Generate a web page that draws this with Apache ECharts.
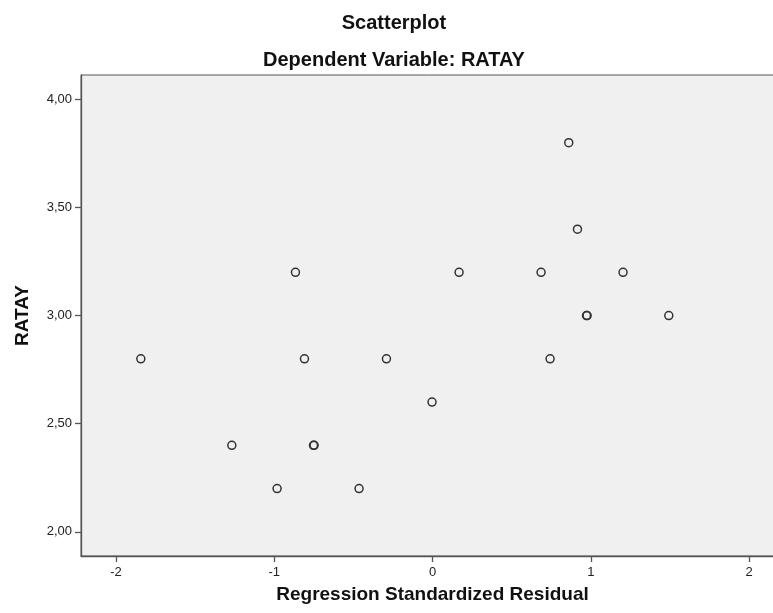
<!DOCTYPE html>
<html>
<head>
<meta charset="utf-8">
<script src="https://cdn.jsdelivr.net/npm/echarts@6/dist/echarts.min.js"></script>
<style>
html,body{margin:0;padding:0;background:#fff;}
#chart{width:773px;height:613px;}
</style>
</head>
<body>
<div id="chart"></div>
<script>
// Data
var residuals = [-1.843, -1.268, -0.982, -0.866, -0.809, -0.752, -0.748, -0.464, -0.291, -0.003, 0.168, 0.686, 0.743, 0.861, 0.916, 0.973, 0.977, 1.204, 1.493];
var ratay     = [2.8, 2.4, 2.2, 3.2, 2.8, 2.4, 2.4, 2.2, 2.8, 2.6, 3.2, 3.2, 2.8, 3.8, 3.4, 3.0, 3.0, 3.2, 3.0];
var xTicks = [-2, -1, 0, 1, 2];
var yTicks = [2.0, 2.5, 3.0, 3.5, 4.0];

var points = residuals.map(function (x, i) { return [x, ratay[i]]; });

var chart = echarts.init(document.getElementById('chart'), null, {renderer: 'canvas'});
var font = '"Liberation Sans", Arial, sans-serif';
chart.setOption({
  animation: false,
  backgroundColor: '#ffffff',
  title: [
    {text: 'Scatterplot', left: 389, textAlign: 'center', top: 8,
     textStyle: {fontFamily: font, fontSize: 20, fontWeight: 'bold', color: '#111'}},
    {text: 'Dependent Variable: RATAY', left: 389, textAlign: 'center', top: 45,
     textStyle: {fontFamily: font, fontSize: 20, fontWeight: 'bold', color: '#111'}}
  ],
  grid: {
    left: 81, top: 75, right: -11, bottom: 57,
    outerBoundsMode: 'none', containLabel: false,
    show: true, backgroundColor: '#F0F0F0', borderColor: '#555', borderWidth: 1
  },
  xAxis: {
    type: 'value', min: -2.221, max: 2.221,
    name: 'Regression Standardized Residual', nameLocation: 'middle', nameGap: 29,
    nameTextStyle: {fontFamily: font, fontSize: 19, fontWeight: 'bold', color: '#111'},
    splitLine: {show: false},
    axisLine: {show: true, onZero: false, lineStyle: {color: '#555', width: 1.3}},
    axisTick: {show: true, length: 6, customValues: xTicks, lineStyle: {color: '#555', width: 1.3}},
    axisLabel: {customValues: xTicks, margin: 10, fontFamily: font, fontSize: 13, color: '#222',
      formatter: function (v) { return String(Math.round(v)); }}
  },
  yAxis: {
    type: 'value', min: 1.888, max: 4.113,
    name: 'RATAY', nameLocation: 'middle', nameGap: 49, nameRotate: 90,
    nameTextStyle: {fontFamily: font, fontSize: 19, fontWeight: 'bold', color: '#111'},
    splitLine: {show: false},
    axisLine: {show: true, onZero: false, lineStyle: {color: '#555', width: 1.3}},
    axisTick: {show: true, length: 6, customValues: yTicks, lineStyle: {color: '#555', width: 1.3}},
    axisLabel: {customValues: yTicks, margin: 9, fontFamily: font, fontSize: 13, color: '#222',
      formatter: function (v) { return v.toFixed(2).replace('.', ','); }}
  },
  series: [{
    type: 'scatter',
    data: points,
    symbol: 'circle',
    symbolSize: 8,
    itemStyle: {color: 'rgba(0,0,0,0)', borderColor: '#333', borderWidth: 1.5, opacity: 1},
    emphasis: {disabled: true}
  }]
});
</script>
</body>
</html>
